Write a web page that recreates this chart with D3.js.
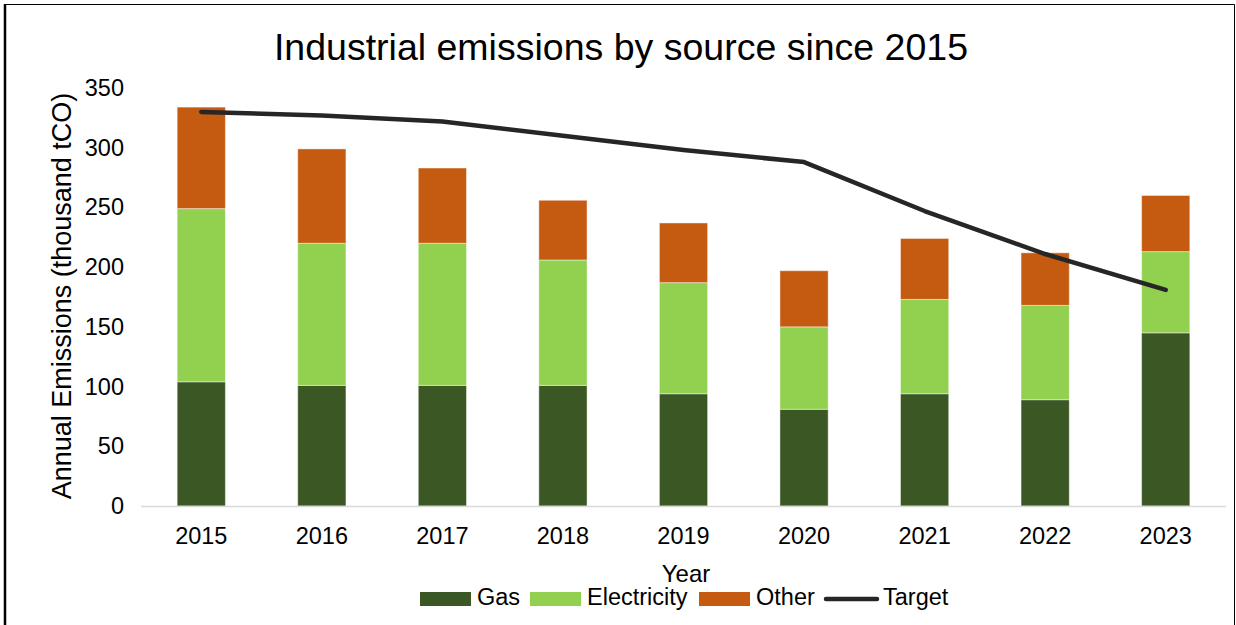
<!DOCTYPE html>
<html>
<head>
<meta charset="utf-8">
<script src="https://cdn.jsdelivr.net/npm/d3@7"></script>
<style>
  html, body { margin: 0; padding: 0; background: #fff; }
  svg { display: block; font-family: "Liberation Sans", Arial, sans-serif; }
</style>
</head>
<body>
<svg id="chart" width="1236" height="625"></svg>
<script>
// Annual industrial emissions, thousand tCO
const years = ["2015", "2016", "2017", "2018", "2019", "2020", "2021", "2022", "2023"];
const gas = [104, 101, 101, 101, 94, 81, 94, 89, 145];
const electricity = [145, 119, 119, 105, 93, 69, 79, 79, 68];
const other = [85, 79, 63, 50, 50, 47, 51, 44, 47];
const target = [330, 327, 322, 310, 298, 288, 247, 211, 181];
const yTicks = [0, 50, 100, 150, 200, 250, 300, 350];

const seriesNames = ["Gas", "Electricity", "Other"];
const seriesColors = ["#3a5724", "#92d050", "#c55a11"];
const lineColor = "#262626";

const W = 1236, H = 625;
const svg = d3.select("#chart");

// frame around the chart
svg.append("path")
  .attr("d", `M5,${H} V4.5 H1234.5 V${H}`)
  .attr("fill", "none").attr("stroke", "#000").attr("stroke-width", 1);
svg.append("line").attr("x1", 5).attr("x2", 5).attr("y1", 4).attr("y2", H)
  .attr("stroke", "#000").attr("stroke-width", 2.5);

const x = d3.scaleBand().domain(years).range([141, 1226]).paddingInner(0.6).paddingOuter(0.3);
const y = d3.scaleLinear().domain([0, 350]).range([506, 88]);

// stacked table built from the series arrays
const rows = years.map((yr, i) => ({ year: yr, Gas: gas[i], Electricity: electricity[i], Other: other[i] }));
const stacked = d3.stack().keys(seriesNames)(rows);

svg.append("g").selectAll("g").data(stacked).join("g")
  .attr("fill", (d, i) => seriesColors[i])
  .selectAll("rect").data(d => d).join("rect")
  .attr("x", d => x(d.data.year))
  .attr("width", x.bandwidth())
  .attr("y", d => y(d[1]))
  .attr("height", d => y(d[0]) - y(d[1]))
  .attr("stroke", "rgba(255,255,255,0.45)")
  .attr("stroke-width", 1);

// category baseline
svg.append("line").attr("x1", 141).attr("x2", 1226).attr("y1", 506.5).attr("y2", 506.5)
  .attr("stroke", "#d9d9d9").attr("stroke-width", 1.5);

// target line
const line = d3.line().x((d, i) => x(years[i]) + x.bandwidth() / 2).y(d => y(d));
svg.append("path").datum(target)
  .attr("d", line)
  .attr("fill", "none").attr("stroke", lineColor).attr("stroke-width", 4.5)
  .attr("stroke-linecap", "round").attr("stroke-linejoin", "round");

// y axis labels
const yAxis = d3.axisLeft(y).tickValues(yTicks).tickSize(0).tickPadding(17);
const gy = svg.append("g").attr("transform", "translate(141,0)").call(yAxis);
gy.select(".domain").remove();
gy.selectAll("text").attr("font-size", 23.5).attr("fill", "#000")
  .attr("font-family", "'Liberation Sans', Arial, sans-serif");

// x axis labels
const xAxis = d3.axisBottom(x).tickSize(0).tickPadding(21);
const gx = svg.append("g").attr("transform", "translate(0,506)").call(xAxis);
gx.select(".domain").remove();
gx.selectAll("text").attr("font-size", 23.5).attr("fill", "#000")
  .attr("font-family", "'Liberation Sans', Arial, sans-serif");

// title
svg.append("text").attr("x", 621).attr("y", 60).attr("text-anchor", "middle")
  .attr("font-size", 37.5).attr("fill", "#000")
  .text("Industrial emissions by source since 2015");

// axis titles
svg.append("text").attr("transform", "translate(71,296) rotate(-90)")
  .attr("text-anchor", "middle").attr("font-size", 27).attr("fill", "#000")
  .text("Annual Emissions (thousand tCO)");
svg.append("text").attr("x", 686).attr("y", 582).attr("text-anchor", "middle")
  .attr("font-size", 24).attr("fill", "#000").text("Year");

// legend
const legendItems = [
  { name: "Gas", type: "rect", color: seriesColors[0], x: 420 },
  { name: "Electricity", type: "rect", color: seriesColors[1], x: 530 },
  { name: "Other", type: "rect", color: seriesColors[2], x: 699 },
  { name: "Target", type: "line", color: lineColor, x: 823 }
];
const lg = svg.append("g").selectAll("g").data(legendItems).join("g")
  .attr("transform", d => `translate(${d.x},0)`);
lg.filter(d => d.type === "rect").append("rect")
  .attr("x", 0).attr("y", 592).attr("width", 51).attr("height", 14)
  .attr("fill", d => d.color);
lg.filter(d => d.type === "line").append("line")
  .attr("x1", 3).attr("x2", 54).attr("y1", 599).attr("y2", 599)
  .attr("stroke", d => d.color).attr("stroke-width", 4.5).attr("stroke-linecap", "round");
lg.append("text").attr("x", d => d.type === "line" ? 60 : 57).attr("y", 605)
  .attr("font-size", 23.5).attr("fill", "#000").text(d => d.name);
</script>
</body>
</html>
